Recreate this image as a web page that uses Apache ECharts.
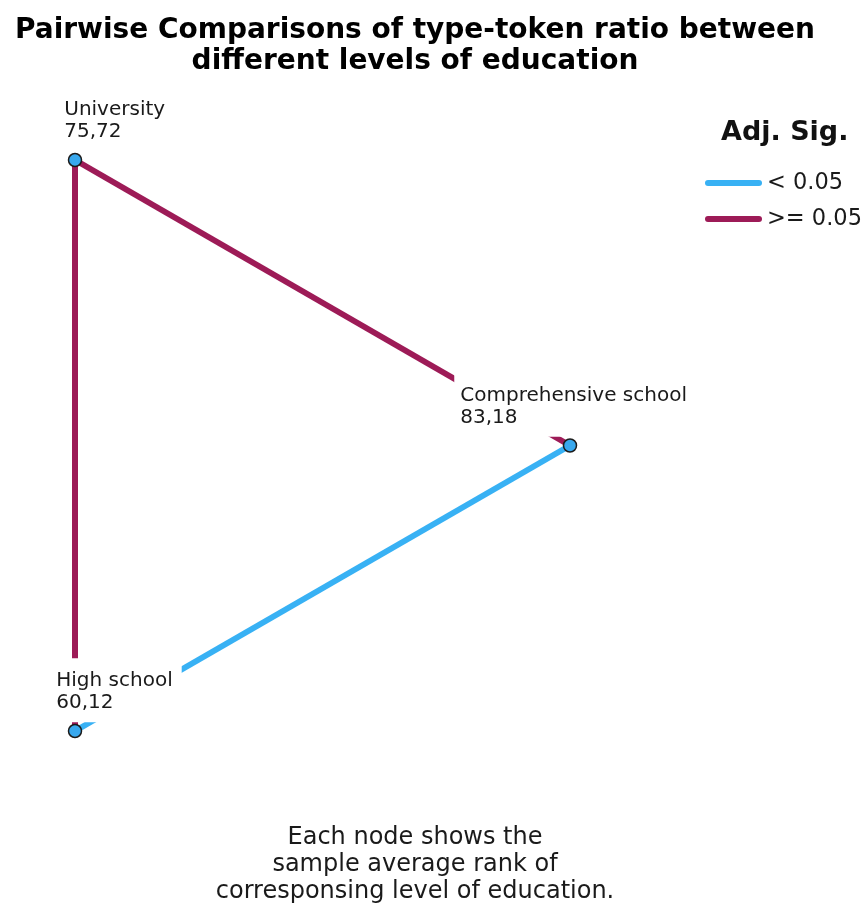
<!DOCTYPE html>
<html>
<head>
<meta charset="utf-8">
<title>Pairwise Comparisons of type-token ratio</title>
<script src="https://cdn.jsdelivr.net/npm/echarts@6/dist/echarts.min.js"></script>
<style>
  html, body { margin: 0; padding: 0; background: #ffffff; }
  #chart { width: 863px; height: 905px; }
</style>
</head>
<body>
<div id="chart"></div>
<script>
// Education levels and their sample average ranks of type-token ratio
const levels = ['University', 'Comprehensive school', 'High school'];
const meanRanks = [75.72, 83.18, 60.12];

// Pairwise comparisons: source, target and whether Adj. Sig. < 0.05
const pairSource = ['University', 'University', 'High school'];
const pairTarget = ['Comprehensive school', 'High school', 'Comprehensive school'];
const pairSignificant = [false, false, true];

// Legend classes
const sigClasses = ['< 0.05', '>= 0.05'];

// Node placement on a triangle (layout units on hidden axes)
const layoutX = [0, 1, 0];
const layoutY = [1, 0, -1];
// Horizontal offset of each node's label box from the node centre (px)
const labelShiftX = [-16, -115, -24];

const BLUE = '#38b1f4';
const PURPLE = '#9d1b57';
const FONT = '"DejaVu Sans", "Liberation Sans", Arial, sans-serif';
const NODE = 13;

function fmtRank(v) {
  return v.toFixed(2).replace('.', ',');
}

const nodes = levels.map(function (name, i) {
  return {
    name: name,
    value: [layoutX[i], layoutY[i]],
    rank: meanRanks[i],
    label: { position: [labelShiftX[i] + NODE / 2, -72 + NODE / 2] }
  };
});

const links = pairSource.map(function (s, i) {
  return {
    source: s,
    target: pairTarget[i],
    lineStyle: { color: pairSignificant[i] ? BLUE : PURPLE }
  };
});

const chart = echarts.init(document.getElementById('chart'), null, { renderer: 'canvas' });

chart.setOption({
  animation: false,
  backgroundColor: '#ffffff',
  title: [
    {
      text: 'Pairwise Comparisons of type-token ratio between\ndifferent levels of education',
      left: 415,
      top: 15,
      padding: 0,
      textAlign: 'center',
      textStyle: { fontFamily: FONT, fontSize: 28, fontWeight: 'bold', lineHeight: 31, color: '#000' }
    },
    {
      text: 'Adj. Sig.',
      left: 721,
      top: 117,
      padding: 0,
      textStyle: { fontFamily: FONT, fontSize: 27, fontWeight: 'bold', lineHeight: 32, color: '#111' }
    },
    {
      text: 'Each node shows the\nsample average rank of\ncorresponsing level of education.',
      left: 415,
      top: 824,
      padding: 0,
      textAlign: 'center',
      textStyle: { fontFamily: FONT, fontSize: 24, fontWeight: 'normal', lineHeight: 27, color: '#1a1a1a' }
    }
  ],
  legend: {
    orient: 'vertical',
    left: 705,
    top: 170,
    padding: 0,
    itemGap: 10,
    itemWidth: 57,
    itemHeight: 6,
    selectedMode: false,
    icon: 'path://M3,0 H54 A3,3 0 0 1 54,6 H3 A3,3 0 0 1 3,0 Z',
    textStyle: { fontFamily: FONT, fontSize: 22.5, lineHeight: 26, color: '#1a1a1a' },
    data: sigClasses
  },
  grid: { left: 75, right: 293, top: 160, bottom: 174, containLabel: false },
  xAxis: { type: 'value', min: 0, max: 1, show: false },
  yAxis: { type: 'value', min: -1, max: 1, show: false },
  series: [
    {
      name: sigClasses[0],
      type: 'line',
      data: [],
      itemStyle: { color: BLUE },
      lineStyle: { color: BLUE }
    },
    {
      name: sigClasses[1],
      type: 'line',
      data: [],
      itemStyle: { color: PURPLE },
      lineStyle: { color: PURPLE }
    },
    {
      type: 'graph',
      layout: 'none',
      coordinateSystem: 'cartesian2d',
      symbol: 'circle',
      symbolSize: NODE,
      itemStyle: { color: '#38a8ee', borderColor: '#1b1b1b', borderWidth: 1.5 },
      lineStyle: { width: 6, opacity: 1, curveness: 0 },
      emphasis: { disabled: true },
      label: {
        show: true,
        align: 'left',
        verticalAlign: 'top',
        backgroundColor: '#ffffff',
        padding: [12, 9, 8, 6],
        fontFamily: FONT,
        fontSize: 20,
        lineHeight: 22,
        color: '#1a1a1a',
        formatter: function (p) {
          return p.name + '\n' + fmtRank(p.data.rank);
        }
      },
      data: nodes,
      links: links
    }
  ]
});
</script>
</body>
</html>
